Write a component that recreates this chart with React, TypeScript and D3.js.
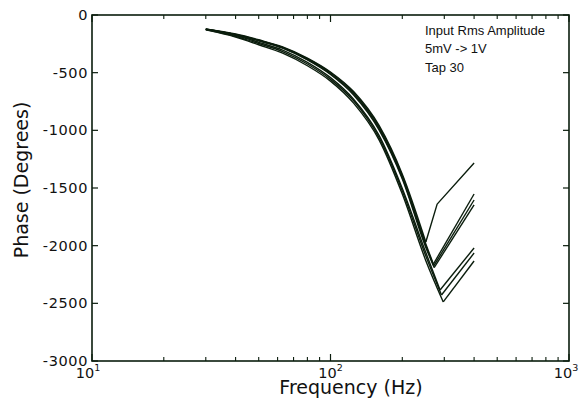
import React from "react";
import * as d3 from "d3";

const baseFreqs = [30, 40, 50, 63, 80, 100, 125, 160, 200, 251];

const phaseA = [-121, -165, -215, -276, -373, -494, -664, -960, -1380, -1968];
const tailFreqA = [280, 400];
const tailPhaseA = [-1640, -1283];

const phaseB1 = [-122, -168, -218, -280, -379, -501, -674, -972, -1394, -1985];
const tailFreqB1 = [270, 400];
const tailPhaseB1 = [-2160, -1552];

const phaseB2 = [-123, -170, -221, -284, -384, -509, -684, -985, -1408, -2000];
const tailFreqB2 = [271, 400];
const tailPhaseB2 = [-2175, -1604];

const phaseB3 = [-124, -172, -225, -288, -390, -516, -694, -998, -1421, -2015];
const tailFreqB3 = [272, 400];
const tailPhaseB3 = [-2190, -1647];

const phaseC1 = [-125, -178, -237, -304, -410, -543, -730, -1046, -1504, -2060];
const tailFreqC1 = [288, 400];
const tailPhaseC1 = [-2384, -2020];

const phaseC2 = [-127, -185, -247, -317, -425, -558, -744, -1066, -1525, -2090];
const tailFreqC2 = [292, 400];
const tailPhaseC2 = [-2428, -2064];

const phaseC3 = [-129, -191, -258, -331, -440, -573, -764, -1085, -1553, -2130];
const tailFreqC3 = [297, 400];
const tailPhaseC3 = [-2488, -2133];

const yTicks = [0, -500, -1000, -1500, -2000, -2500, -3000];
const xMajor = [10, 100, 1000];
const xExp = ["1", "2", "3"];
const legendLines = ["Input Rms Amplitude", "5mV -> 1V", "Tap 30"];
const xTitle = "Frequency (Hz)";
const yTitle = "Phase (Degrees)";

const series = [
  [phaseA, tailFreqA, tailPhaseA],
  [phaseB1, tailFreqB1, tailPhaseB1],
  [phaseB2, tailFreqB2, tailPhaseB2],
  [phaseB3, tailFreqB3, tailPhaseB3],
  [phaseC1, tailFreqC1, tailPhaseC1],
  [phaseC2, tailFreqC2, tailPhaseC2],
  [phaseC3, tailFreqC3, tailPhaseC3],
] as const;

const W = 582;
const H = 415;
const L = 92;
const R = 569;
const T = 15;
const B = 361;
const ink = "#0b1d0d";

export default function App() {
  const x = d3.scaleLog().domain([10, 1000]).range([L, R]);
  const y = d3.scaleLinear().domain([-3000, 0]).range([B, T]);
  const smooth = d3
    .line<[number, number]>()
    .x((d) => x(d[0]))
    .y((d) => y(d[1]))
    .curve(d3.curveMonotoneX);
  const straight = d3
    .line<[number, number]>()
    .x((d) => x(d[0]))
    .y((d) => y(d[1]));

  const minor: number[] = [];
  for (const dec of [10, 100]) {
    for (let k = 2; k <= 9; k++) minor.push(dec * k);
  }

  const tickFont = "DejaVu Sans, Verdana, sans-serif";
  const labelShift = [-4, 0, -3];

  return (
    <svg
      width={W}
      height={H}
      style={{ position: "absolute", left: 0, top: 0, background: "#fff" }}
    >
      <rect x={0} y={0} width={W} height={H} fill="#fff" />
      {series.map(([base, tf, tp], i) => {
        const down: [number, number][] = base.map((p, j) => [baseFreqs[j], p]);
        down.push([tf[0], tp[0]]);
        const last = base.length - 1;
        const up: [number, number][] = [[baseFreqs[last], base[last]]];
        tf.forEach((f, j) => up.push([f, tp[j]]));
        // A's minimum is its last base point; others bottom out at the first tail point
        const isA = i === 0;
        const downPts = isA ? down.slice(0, base.length) : down;
        const upPts = isA ? up : up.slice(1);
        return (
          <g key={i}>
            <path
              d={smooth(downPts) || ""}
              fill="none"
              stroke={ink}
              strokeWidth={1.4}
              strokeLinejoin="round"
            />
            <path
              d={straight(upPts) || ""}
              fill="none"
              stroke={ink}
              strokeWidth={1.4}
              strokeLinejoin="round"
            />
          </g>
        );
      })}
      {/* frame */}
      <rect
        x={L}
        y={T}
        width={R - L}
        height={B - T}
        fill="none"
        stroke={ink}
        strokeWidth={1.6}
      />
      {/* y ticks */}
      {yTicks.map((v) => (
        <g key={v}>
          <line x1={L} x2={L + 6} y1={y(v)} y2={y(v)} stroke={ink} strokeWidth={1.2} />
          <line x1={R} x2={R - 6} y1={y(v)} y2={y(v)} stroke={ink} strokeWidth={1.2} />
          <text
            x={L - 4}
            y={y(v) + 5}
            textAnchor="end"
            fontFamily={tickFont}
            fontSize={14.5}
            letterSpacing={0.6}
            fill="#111"
          >
            {v}
          </text>
        </g>
      ))}
      {/* x ticks */}
      {minor.map((f) => (
        <g key={f}>
          <line x1={x(f)} x2={x(f)} y1={B} y2={B - 4} stroke={ink} strokeWidth={1.1} />
          <line x1={x(f)} x2={x(f)} y1={T} y2={T + 4} stroke={ink} strokeWidth={1.1} />
        </g>
      ))}
      {xMajor.map((f, i) => (
        <g key={f}>
          <line x1={x(f)} x2={x(f)} y1={B} y2={B - 7} stroke={ink} strokeWidth={1.2} />
          <line x1={x(f)} x2={x(f)} y1={T} y2={T + 7} stroke={ink} strokeWidth={1.2} />
          <text
            x={x(f) + labelShift[i]}
            y={B + 17}
            textAnchor="middle"
            fontFamily={tickFont}
            fontSize={14.5}
            fill="#111"
          >
            10
            <tspan fontSize={9.5} dy={-7}>
              {xExp[i]}
            </tspan>
          </text>
        </g>
      ))}
      {/* axis titles */}
      <text
        x={351}
        y={394}
        textAnchor="middle"
        fontFamily={tickFont}
        fontSize={19}
        fill="#111"
      >
        {xTitle}
      </text>
      <text
        transform={`translate(28,180) rotate(-90)`}
        textAnchor="middle"
        fontFamily={tickFont}
        fontSize={19}
        fill="#111"
      >
        {yTitle}
      </text>
      {/* legend */}
      {legendLines.map((s, i) => (
        <text
          key={i}
          x={425}
          y={35 + i * 18.3}
          fontFamily="Liberation Sans, Arial, sans-serif"
          fontSize={13}
          fill="#111"
        >
          {s}
        </text>
      ))}
    </svg>
  );
}
